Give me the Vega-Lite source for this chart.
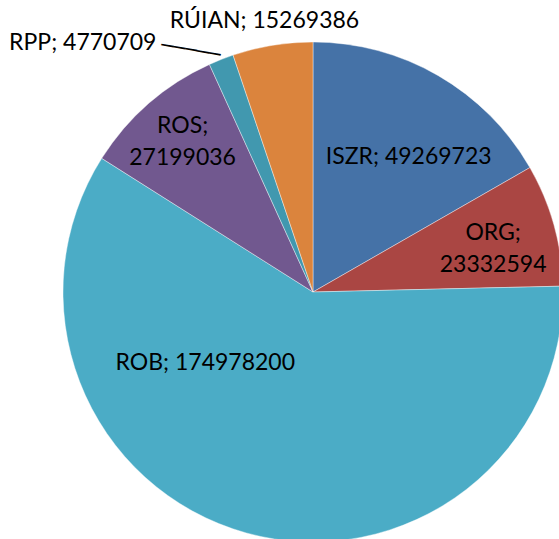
{
  "$schema": "https://vega.github.io/schema/vega-lite/v6.json",
  "width": 492,
  "height": 494,
  "autosize": {"type": "none"},
  "padding": {"left": 67, "top": 45, "right": 0, "bottom": 0},
  "background": "#ffffff",
  "config": {"view": {"stroke": null}, "text": {"font": "Lato", "fontSize": 23, "lineBreak": "\n", "lineHeight": 32, "color": "#000000", "align": "center", "baseline": "middle"}},
  "data": {
    "values": [
      {"category": "ISZR", "value": 49269723, "label": "ISZR; 49269723"},
      {"category": "ORG", "value": 23332594, "label": "ORG;\n23332594"},
      {"category": "ROB", "value": 174978200, "label": "ROB; 174978200"},
      {"category": "ROS", "value": 27199036, "label": "ROS;\n27199036"},
      {"category": "RPP", "value": 4770709, "label": "RPP; 4770709"},
      {"category": "RÚIAN", "value": 15269386, "label": "RÚIAN; 15269386"}
    ]
  },
  "encoding": {
    "theta": {"field": "value", "type": "quantitative", "stack": true},
    "order": {"field": "category", "type": "ordinal", "sort": "ascending"}
  },
  "layer": [
    {
      "mark": {"type": "arc", "outerRadius": 250, "stroke": "#ffffff", "strokeWidth": 0.4},
      "encoding": {
        "color": {
          "field": "category", "type": "nominal", "legend": null,
          "scale": {"domain": ["ISZR", "ORG", "ROB", "ROS", "RPP", "RÚIAN"], "range": ["#4572A7", "#AA4643", "#4BACC6", "#71588F", "#4198AF", "#DB843D"]}
        }
      }
    },
    {
      "mark": {"type": "text", "radius": 165, "dx": 13, "dy": 8},
      "encoding": {"text": {"condition": {"test": "datum.category === 'ISZR'", "field": "label"}, "value": ""}}
    },
    {
      "mark": {"type": "text", "radius": 187, "dx": 0, "dy": -9},
      "encoding": {"text": {"condition": {"test": "datum.category === 'ORG'", "field": "label"}, "value": ""}}
    },
    {
      "mark": {"type": "text", "radius": 100, "dx": -81, "dy": -25},
      "encoding": {"text": {"condition": {"test": "datum.category === 'ROB'", "field": "label"}, "value": ""}}
    },
    {
      "mark": {"type": "text", "radius": 200, "dx": 1, "dy": -15},
      "encoding": {"text": {"condition": {"test": "datum.category === 'ROS'", "field": "label"}, "value": ""}}
    },
    {
      "mark": {"type": "text", "radius": 300, "dx": -120, "dy": 30},
      "encoding": {"text": {"condition": {"test": "datum.category === 'RPP'", "field": "label"}, "value": ""}}
    },
    {
      "mark": {"type": "text", "radius": 275, "dx": -4, "dy": 0},
      "encoding": {"text": {"condition": {"test": "datum.category === 'RÚIAN'", "field": "label"}, "value": ""}}
    },
    {
      "mark": {"type": "text", "radius": 266, "dx": -23, "dy": 10, "angle": 10, "font": "DejaVu Sans", "fontSize": 20},
      "encoding": {"text": {"condition": {"test": "datum.category === 'RPP'", "value": "─────"}, "value": ""}}
    }
  ]
}
